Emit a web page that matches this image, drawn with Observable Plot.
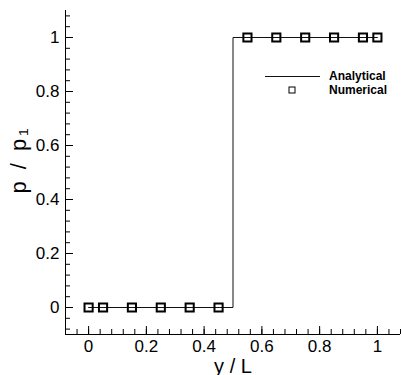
<!DOCTYPE html>
<html><head><meta charset="utf-8">
<script src="https://cdn.jsdelivr.net/npm/d3@7"></script>
<script src="https://cdn.jsdelivr.net/npm/@observablehq/plot@0.6"></script>
<style>body{margin:0;background:#fff}#chart{width:402px;height:375px}</style>
</head><body><div id="chart"></div>
<script>
// ---- data ----
const analyticX = [0, 0.5, 0.5, 1];
const analyticY = [0, 0, 1, 1];
const numX = [0, 0.05, 0.15, 0.25, 0.35, 0.45, 0.55, 0.65, 0.75, 0.85, 0.95, 1];
const numY = [0, 0, 0, 0, 0, 0, 1, 1, 1, 1, 1, 1];
const xTicks = [0, 0.2, 0.4, 0.6, 0.8, 1];
const xTickLabels = ["0", "0.2", "0.4", "0.6", "0.8", "1"];
const yTicks = [0, 0.2, 0.4, 0.6, 0.8, 1];
const yTickLabels = ["0", "0.2", "0.4", "0.6", "0.8", "1"];
const minorTicks = [-0.08,-0.04,0,0.04,0.08,0.12,0.16,0.2,0.24,0.28,0.32,0.36,0.4,0.44,0.48,0.52,0.56,0.6,0.64,0.68,0.72,0.76,0.8,0.84,0.88,0.92,0.96,1,1.04,1.08];
const xDomain = [-0.08, 1.08];
const yDomain = [-0.1, 1.1];
const xTitle = "y / L";
const yTitle = "p / p\u2081";
const legendLabels = ["Analytical", "Numerical"];

// ---- layout ----
const W = 402, H = 375, ml = 65, mr = 2, mt = 10, mb = 41;
const fw = W - ml - mr, fh = H - mt - mb;
const font = "'Liberation Sans', Arial, Helvetica, sans-serif";
const analytic = analyticX.map((x, i) => ({x, y: analyticY[i]}));
const numerical = numX.map((x, i) => ({x, y: numY[i]}));

const chart = Plot.plot({
  width: W, height: H,
  marginLeft: ml, marginRight: mr, marginTop: mt, marginBottom: mb,
  style: {fontFamily: font, background: "#fff", color: "#000"},
  x: {domain: xDomain},
  y: {domain: yDomain},
  marks: [
    Plot.axisX(xTicks, {tickSize: 0, tickPadding: 5, fontSize: 17, tickFormat: d => xTickLabels[xTicks.indexOf(d)], label: null}),
    Plot.axisY(yTicks, {tickSize: 0, tickPadding: 6, fontSize: 17, tickFormat: d => yTickLabels[yTicks.indexOf(d)], label: null}),
    // inward ticks
    Plot.tickX(minorTicks.filter(d => d >= -0.04), {x: d => d, insetTop: fh - 5, stroke: "#000"}),
    Plot.tickX(xTicks, {x: d => d, insetTop: fh - 8, stroke: "#000"}),
    Plot.tickY(minorTicks, {y: d => d, insetRight: fw - 5, stroke: "#000"}),
    Plot.tickY(yTicks, {y: d => d, insetRight: fw - 8, stroke: "#000"}),
    // axis lines
    Plot.ruleX([xDomain[0]], {stroke: "#000"}),
    Plot.ruleY([yDomain[0]], {stroke: "#000"}),
    // titles
    Plot.text([xTitle], {frameAnchor: "bottom", lineAnchor: "middle", dy: 32, fontSize: 20, fill: "#000"}),
    Plot.text([yTitle], {frameAnchor: "left", textAnchor: "middle", lineAnchor: "middle", rotate: -90, dx: -47, dy: -13, fontSize: 22, fill: "#000"}),
    // data
    Plot.line(analytic, {x: "x", y: "y", stroke: "#111", strokeWidth: 1, curve: "linear"}),
    Plot.dot(numerical, {x: "x", y: "y", symbol: "square", r: 4.6, stroke: "#000", strokeWidth: 2, fill: "none"})
  ]
});

const svg = d3.select(chart);
svg.selectAll("text").filter(function() { return this.textContent === yTitle; }).style("letter-spacing", "3px");

// legend
const lg = svg.append("g").attr("font-family", font).attr("font-size", 12).attr("font-weight", "bold").attr("text-anchor", "start");
lg.append("line").attr("x1", 265).attr("x2", 320).attr("y1", 76.5).attr("y2", 76.5).attr("stroke", "#111");
lg.append("rect").attr("x", 289).attr("y", 87).attr("width", 6).attr("height", 6).attr("fill", "none").attr("stroke", "#000");
lg.selectAll("text").data(legendLabels).join("text")
  .attr("x", 329).attr("y", (d, i) => 76 + i * 14).attr("dy", "0.35em").attr("fill", "#000").text(d => d);

document.getElementById("chart").appendChild(chart);
</script>
</body></html>
